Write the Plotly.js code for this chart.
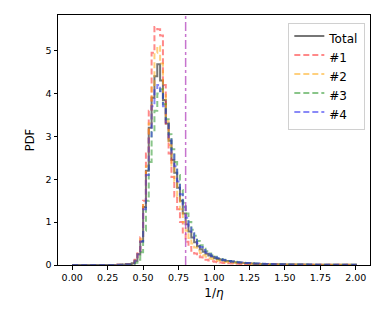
<!DOCTYPE html>
<html>
<head>
<meta charset="utf-8">
<script src="https://cdn.plot.ly/plotly-3.0.1.min.js"></script>
<style>html,body{margin:0;padding:0;background:#fff;}#chart{width:390px;height:312px;}</style>
</head>
<body>
<div id="chart"></div>
<script>
// Histogram bins: 100 bins of width 0.02 from 0 to 2
const binStart = 0.0;
const binWidth = 0.02;
const binCount = 100;

const seriesNames = ["Total", "#1", "#2", "#3", "#4"];

const total = [
 0,0,0,0,0,0,0,0,0,0, 0,0,0,0,0,0,0.005,0.005,0.01,0.015,
 0.02,0.04,0.10,0.25,0.55,1.35,2.2,3.2,3.9,4.4,
 4.68,4.3,3.85,3.3,2.9,2.45,2.15,1.8,1.5,1.2,
 0.95,0.78,0.64,0.53,0.44,0.37,0.31,0.26,0.22,0.19,
 0.16,0.14,0.12,0.105,0.095,0.085,0.075,0.067,0.06,0.054,
 0.048,0.043,0.039,0.035,0.032,0.029,0.026,0.024,0.022,0.02,
 0.018,0.017,0.016,0.015,0.014,0.013,0.012,0.011,0.011,0.01,
 0.01,0.009,0.009,0.008,0.008,0.008,0.007,0.007,0.007,0.006,
 0.006,0.006,0.006,0.005,0.005,0.005,0.005,0.005,0.004,0.004
];
const s1 = [
 0,0,0,0,0,0,0,0,0,0, 0,0,0,0,0,0,0.005,0.005,0.01,0.015,
 0.02,0.05,0.12,0.3,0.65,1.5,2.6,3.6,4.95,5.55,
 5.5,5.35,4.2,3.3,2.6,2.05,1.6,1.3,1.0,0.72,
 0.54,0.42,0.33,0.27,0.22,0.18,0.15,0.125,0.105,0.09,
 0.075,0.065,0.056,0.049,0.043,0.038,0.034,0.03,0.027,0.024,
 0.022,0.02,0.018,0.017,0.015,0.014,0.013,0.012,0.011,0.01,
 0.01,0.009,0.009,0.008,0.008,0.007,0.007,0.007,0.006,0.006,
 0.006,0.005,0.005,0.005,0.005,0.004,0.004,0.004,0.004,0.004,
 0.003,0.003,0.003,0.003,0.003,0.003,0.003,0.002,0.002,0.002
];
const s2 = [
 0,0,0,0,0,0,0,0,0,0, 0,0,0,0,0,0,0.005,0.005,0.01,0.015,
 0.02,0.04,0.10,0.25,0.6,1.4,2.3,3.3,4.2,4.95,
 5.1,4.7,4.0,3.35,2.8,2.3,1.95,1.6,1.3,1.0,
 0.8,0.63,0.5,0.41,0.34,0.28,0.23,0.19,0.16,0.14,
 0.12,0.105,0.092,0.081,0.072,0.064,0.057,0.051,0.046,0.042,
 0.038,0.034,0.031,0.028,0.026,0.024,0.022,0.02,0.018,0.017,
 0.016,0.015,0.014,0.013,0.012,0.011,0.011,0.01,0.01,0.009,
 0.009,0.008,0.008,0.008,0.007,0.007,0.007,0.006,0.006,0.006,
 0.006,0.005,0.005,0.005,0.005,0.005,0.004,0.004,0.004,0.004
];
const s3 = [
 0,0,0,0,0,0,0,0,0,0, 0,0,0,0,0,0,0,0.005,0.005,0.01,
 0.01,0.02,0.05,0.12,0.3,0.8,1.5,2.4,3.1,3.6,
 4.0,4.1,3.75,3.4,3.05,2.7,2.4,2.1,1.75,1.45,
 1.2,1.0,0.82,0.68,0.56,0.46,0.38,0.32,0.27,0.23,
 0.19,0.16,0.14,0.12,0.105,0.093,0.082,0.073,0.065,0.058,
 0.052,0.047,0.042,0.038,0.035,0.032,0.029,0.026,0.024,0.022,
 0.02,0.019,0.018,0.016,0.015,0.014,0.013,0.013,0.012,0.011,
 0.011,0.01,0.01,0.009,0.009,0.008,0.008,0.008,0.007,0.007,
 0.007,0.006,0.006,0.006,0.006,0.005,0.005,0.005,0.005,0.005
];
const s4 = [
 0,0,0,0,0,0,0,0,0,0, 0,0,0,0,0,0,0.005,0.005,0.01,0.015,
 0.02,0.04,0.10,0.25,0.55,1.3,2.1,3.0,3.7,4.1,
 4.2,4.05,3.7,3.3,2.95,2.6,2.3,1.95,1.65,1.35,
 1.1,0.9,0.74,0.61,0.5,0.42,0.35,0.29,0.25,0.21,
 0.18,0.155,0.135,0.118,0.104,0.092,0.082,0.073,0.066,0.059,
 0.053,0.048,0.044,0.04,0.036,0.033,0.03,0.028,0.026,0.024,
 0.022,0.02,0.019,0.018,0.016,0.015,0.014,0.013,0.013,0.012,
 0.011,0.011,0.01,0.01,0.009,0.009,0.008,0.008,0.008,0.007,
 0.007,0.007,0.006,0.006,0.006,0.006,0.005,0.005,0.005,0.005
];
const threshold = 0.8;

const xTickVals = [0, 0.25, 0.5, 0.75, 1.0, 1.25, 1.5, 1.75, 2.0];
const xTickText = ["0.00","0.25","0.50","0.75","1.00","1.25","1.50","1.75","2.00"];
const yTickVals = [0,1,2,3,4,5];

const edges = [];
for (let i = 0; i <= binCount; i++) edges.push(+(binStart + i*binWidth).toFixed(4));

function stepTrace(vals, name, color, dash, width) {
  const x = [edges[0]];
  const y = [0];
  for (let i = 0; i < vals.length; i++) { x.push(edges[i]); y.push(vals[i]); }
  x.push(edges[vals.length]); y.push(0);
  return {
    x: x, y: y, name: name, type: 'scatter', mode: 'lines',
    fill: 'toself', fillcolor: 'rgba(0,0,0,0)',
    line: {shape: 'hv', color: color, dash: dash, width: width},
    hoverinfo: 'skip'
  };
}

const traces = [
  stepTrace(total, seriesNames[0], 'rgba(60,60,60,0.7)', 'solid', 2),
  stepTrace(s1, seriesNames[1], 'rgba(255,40,40,0.55)', '6px,3px', 2),
  stepTrace(s2, seriesNames[2], 'rgba(255,170,20,0.55)', '6px,3px', 2),
  stepTrace(s3, seriesNames[3], 'rgba(40,150,40,0.55)', '6px,3px', 2),
  stepTrace(s4, seriesNames[4], 'rgba(40,40,240,0.55)', '6px,3px', 2)
];

const layout = {
  width: 390, height: 312,
  margin: {l: 58, r: 20, t: 15, b: 47},
  paper_bgcolor: '#fff', plot_bgcolor: '#fff',
  font: {family: 'DejaVu Sans', size: 10, color: '#000'},
  showlegend: true,
  legend: {
    x: 0.985, y: 0.97, xanchor: 'right', yanchor: 'top',
    bgcolor: 'rgba(255,255,255,0.8)', bordercolor: '#d0d0d0', borderwidth: 1,
    font: {family: 'DejaVu Sans', size: 12, color: '#000'},
    itemwidth: 30, tracegroupgap: 0
  },
  xaxis: {
    range: [-0.1, 2.1], tickvals: xTickVals, ticktext: xTickText,
    ticks: 'outside', ticklen: 3.5, tickwidth: 1, tickcolor: '#000',
    showgrid: false, zeroline: false, showline: true, linecolor: '#000', linewidth: 1,
    mirror: true, tickfont: {size: 9.5}, layer: 'above traces',
    title: {text: '1/<i>η</i>', font: {size: 12}, standoff: 6}
  },
  yaxis: {
    range: [0, 5.83], tickvals: yTickVals,
    ticks: 'outside', ticklen: 3.5, tickwidth: 1, tickcolor: '#000',
    showgrid: false, zeroline: false, showline: true, linecolor: '#000', linewidth: 1,
    mirror: true, tickfont: {size: 9.5}, layer: 'above traces',
    title: {text: 'PDF', font: {size: 11.5}, standoff: 8}
  },
  shapes: [{
    type: 'line', xref: 'x', yref: 'paper', x0: threshold, x1: threshold, y0: 0, y1: 1,
    line: {color: 'rgba(180,70,190,0.75)', width: 1.5, dash: 'dashdot'}
  }]
};

Plotly.newPlot('chart', traces, layout, {displayModeBar: false, staticPlot: true});
</script>
</body>
</html>
